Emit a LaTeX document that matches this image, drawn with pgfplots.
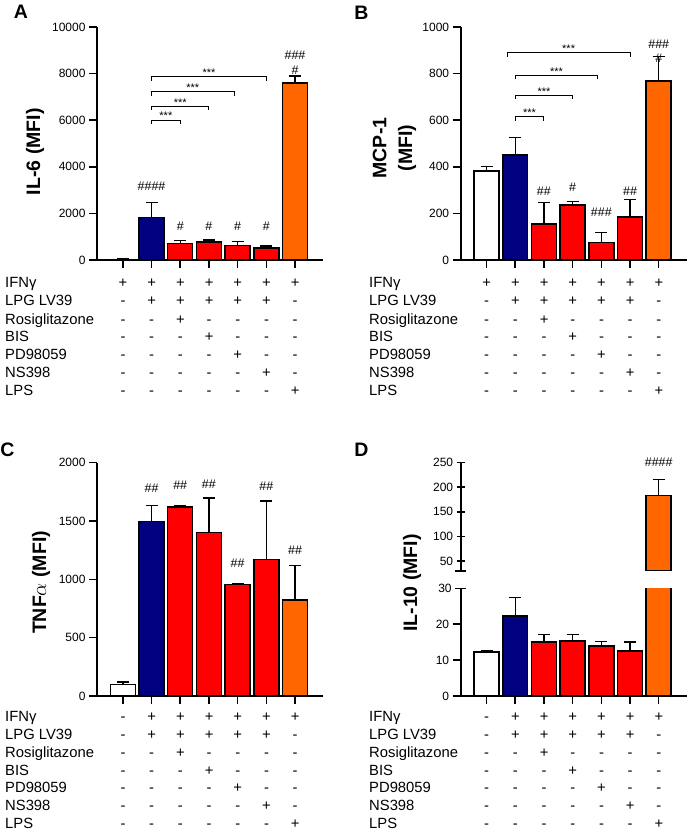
\documentclass[border=0pt]{standalone}
\usepackage{pgfplots}
\pgfplotsset{compat=1.18}
\usepackage{fontspec}
\setmainfont{Liberation Sans}
\definecolor{navy}{RGB}{0,0,128}
\definecolor{gpred}{RGB}{255,0,0}
\definecolor{gporange}{RGB}{255,102,0}
\newcommand\tickfont{\fontsize{12}{14}\selectfont}
\newcommand\tabfont{\fontsize{14.8}{17}\selectfont}
\newcommand\labfont{\fontsize{19.5}{25.8}\selectfont\bfseries}
\newcommand\hfont{\fontsize{12.5}{14}\selectfont}
\newcommand\sfont{\fontsize{11}{12}\selectfont}
\pgfplotsset{
  gp/.style={
    scale only axis, axis lines=left,
    axis line style={line width=1.6pt,-},
    tick style={line width=1.5pt, black},
    tick align=outside, major tick length=8pt,
    xtick={0,...,6}, xticklabels={}, xmin=-0.9, xmax=6.975, ymin=0,
    yticklabel style={font=\tickfont},
    /pgf/number format/assume math mode=true,
    /pgf/number format/set thousands separator={},
    scaled y ticks=false,
    ybar, bar width=0.87, clip=false,
  },
  gpbar/.style={draw=black, line width=1.5pt, bar shift=0pt,
    error bars/.cd, y dir=plus, y explicit,
    error bar style={line width=1.4pt, black, solid},
    error mark options={rotate=90, line width=1.4pt, mark size=6pt, black}},
  brk/.style={black, line width=1pt, sharp plot, forget plot, mark=none},
}
\newcommand\signs[3]{%
  \foreach \s [count=\i from 0] in {#3} {\node[font=\tabfont, anchor=base, inner sep=0] at ({#1+28.7*\i}, {832-(#2)}) {\s};}}
\newcommand\rowlab[3]{\node[font=\tabfont, anchor=base west, inner sep=0] at (#1, {832-(#2)}) {#3};}
\begin{document}
\begin{tikzpicture}[x=1pt,y=1pt]
\path[use as bounding box] (0,0) rectangle (688,832);

% ---------------- Panel A
\begin{axis}[gp, at={(97pt,572pt)}, anchor=south west, width=226pt, height=233pt,
  ymax=10000, ytick={0,2000,...,10000}]
\addplot[fill=white, gpbar] coordinates {(0,30) +- (0,30)};
\addplot[fill=navy, gpbar] coordinates {(1,1815) +- (0,645)};
\addplot[fill=gpred, gpbar] coordinates {(2,715) +- (0,115) (3,770) +- (0,85) (4,614) +- (0,170) (5,515) +- (0,85)};
\addplot[fill=gporange, gpbar] coordinates {(6,7596) +- (0,300)};
\addplot[brk] coordinates {(1,5830) (1,6000) (2,6000) (2,5830)};
\addplot[brk] coordinates {(1,6430) (1,6600) (3,6600) (3,6430)};
\addplot[brk] coordinates {(1,7040) (1,7210) (3.88,7210) (3.88,7040)};
\addplot[brk] coordinates {(1,7700) (1,7870) (5,7870) (5,7700)};
\node[font=\sfont, anchor=south, inner sep=0] at (axis cs:1.5,6000) {***};
\node[font=\sfont, anchor=south, inner sep=0] at (axis cs:2,6600) {***};
\node[font=\sfont, anchor=south, inner sep=0] at (axis cs:2.44,7210) {***};
\node[font=\sfont, anchor=south, inner sep=0] at (axis cs:3,7870) {***};
\node[font=\hfont] at (axis cs:1,3150) {\#\#\#\#};
\node[font=\hfont] at (axis cs:2,1430) {\#};
\node[font=\hfont] at (axis cs:3,1430) {\#};
\node[font=\hfont] at (axis cs:4,1430) {\#};
\node[font=\hfont] at (axis cs:5,1430) {\#};
\node[font=\hfont] at (axis cs:6,8770) {\#\#\#};
\node[font=\hfont] at (axis cs:6,8150) {\#};
\end{axis}

% ---------------- Panel B
\begin{axis}[gp, at={(460.7pt,572pt)}, anchor=south west, width=226pt, height=233pt,
  ymax=1000, ytick={0,200,...,1000}]
\addplot[fill=white, gpbar] coordinates {(0,383) +- (0,17)};
\addplot[fill=navy, gpbar] coordinates {(1,450) +- (0,76)};
\addplot[fill=gpred, gpbar] coordinates {(2,155) +- (0,92) (3,236) +- (0,15) (4,76) +- (0,41) (5,184) +- (0,76)};
\addplot[fill=gporange, gpbar] coordinates {(6,768) +- (0,106)};
\addplot[brk] coordinates {(1,597) (1,614) (2,614) (2,597)};
\addplot[brk] coordinates {(1,690) (1,707) (3,707) (3,690)};
\addplot[brk] coordinates {(1,776) (1,793) (3.88,793) (3.88,776)};
\addplot[brk] coordinates {(0.72,873) (0.72,890) (5,890) (5,873)};
\node[font=\sfont, anchor=south, inner sep=0] at (axis cs:1.5,614) {***};
\node[font=\sfont, anchor=south, inner sep=0] at (axis cs:2,707) {***};
\node[font=\sfont, anchor=south, inner sep=0] at (axis cs:2.44,793) {***};
\node[font=\sfont, anchor=south, inner sep=0] at (axis cs:2.86,890) {***};
\node[font=\hfont] at (axis cs:2,297) {\#\#};
\node[font=\hfont] at (axis cs:3,311) {\#};
\node[font=\hfont] at (axis cs:4,206) {\#\#\#};
\node[font=\hfont] at (axis cs:5,297) {\#\#};
\node[font=\hfont] at (axis cs:6,924) {\#\#\#};
\node[font=\hfont] at (axis cs:6,864) {\#};
\end{axis}

% ---------------- Panel C
\begin{axis}[gp, at={(97pt,136pt)}, anchor=south west, width=226pt, height=233.3pt,
  ymax=2000, ytick={0,500,...,2000}]
\addplot[fill=white, gpbar] coordinates {(0,100) +- (0,20)};
\addplot[fill=navy, gpbar] coordinates {(1,1494) +- (0,137)};
\addplot[fill=gpred, gpbar] coordinates {(2,1620) +- (0,10) (3,1400) +- (0,297) (4,957) +- (0,8) (5,1171) +- (0,500)};
\addplot[fill=gporange, gpbar] coordinates {(6,823) +- (0,297)};
\node[font=\hfont] at (axis cs:1,1780) {\#\#};
\node[font=\hfont] at (axis cs:2,1808) {\#\#};
\node[font=\hfont] at (axis cs:3,1817) {\#\#};
\node[font=\hfont] at (axis cs:4,1137) {\#\#};
\node[font=\hfont] at (axis cs:5,1797) {\#\#};
\node[font=\hfont] at (axis cs:6,1251) {\#\#};
\end{axis}

% ---------------- Panel D (broken axis)
\begin{axis}[gp, at={(460.7pt,136pt)}, anchor=south west, width=226pt, height=107.7pt,
  ymax=30, ytick={0,10,20}, extra y ticks={30}, extra y tick labels={30},
  extra y tick style={tick align=center, major tick length=11pt},
  clip=true, clip mode=individual]
\addplot[fill=white, gpbar] coordinates {(0,12.2) +- (0,0.4)};
\addplot[fill=navy, gpbar] coordinates {(1,22.3) +- (0,5.1)};
\addplot[fill=gpred, gpbar] coordinates {(2,15.0) +- (0,2.2) (3,15.3) +- (0,1.9) (4,13.9) +- (0,1.2) (5,12.6) +- (0,2.4)};
\addplot[fill=gporange, draw=black, line width=1.5pt, bar shift=0pt] coordinates {(6,183)};
\end{axis}
\begin{axis}[gp, at={(460.7pt,261pt)}, anchor=south west, width=226pt, height=108.5pt,
  axis x line=none, axis y line=left, y axis line style={-},
  ymin=30, ymax=250, ytick={50,100,...,250}, extra y ticks={30}, extra y tick labels={},
  extra y tick style={tick align=center, major tick length=11pt},
  clip=true, clip mode=individual]
\addplot[fill=gporange, gpbar] coordinates {(6,183) +- (0,33)};
\node[font=\hfont] at (axis cs:6,250) {\#\#\#\#};
\end{axis}

% ---------------- labels
\node[font=\labfont] at (20.8,{832-11.7}) {A};
\node[font=\labfont] at (361.5,{832-13.3}) {B};
\node[font=\labfont] at (7.5,{832-450}) {C};
\node[font=\labfont] at (361.5,{832-450}) {D};
\node[font=\labfont, rotate=90] at (35,{832-151.7}) {IL-6 (MFI)};
\node[font=\labfont, rotate=90, align=center] at (394.4,{832-148}) {MCP-1\\(MFI)};
\node[font=\labfont, rotate=90] at (41,{832-582.5}) {TNF$\alpha$ (MFI)};
\node[font=\labfont, rotate=90] at (412,{832-583}) {IL-10 (MFI)};

% ---------------- tables
\foreach \lx/\cx/\yo/\first in {5/123/0/+, 369/486.7/0/+, 5/123/433.4/-, 369/486.7/433.4/-} {
  \rowlab{\lx}{288+\yo}{IFNγ}
  \rowlab{\lx}{306+\yo}{LPG LV39}
  \rowlab{\lx}{324.6+\yo}{Rosiglitazone}
  \rowlab{\lx}{342+\yo}{BIS}
  \rowlab{\lx}{359.6+\yo}{PD98059}
  \rowlab{\lx}{377.6+\yo}{NS398}
  \rowlab{\lx}{395.3+\yo}{LPS}
  \signs{\cx}{288+\yo}{\first,+,+,+,+,+,+}
  \signs{\cx}{306+\yo}{-,+,+,+,+,+,-}
  \signs{\cx}{324.6+\yo}{-,-,+,-,-,-,-}
  \signs{\cx}{342+\yo}{-,-,-,+,-,-,-}
  \signs{\cx}{359.6+\yo}{-,-,-,-,+,-,-}
  \signs{\cx}{377.6+\yo}{-,-,-,-,-,+,-}
  \signs{\cx}{395.3+\yo}{-,-,-,-,-,-,+}
}
\end{tikzpicture}
\end{document}
